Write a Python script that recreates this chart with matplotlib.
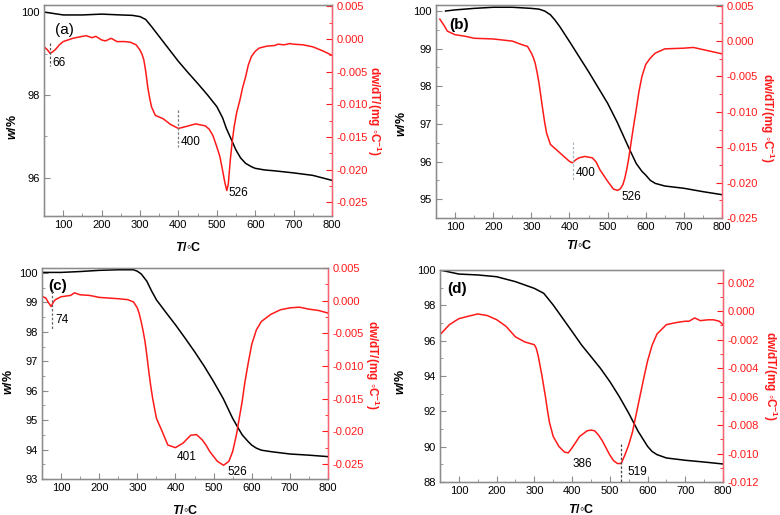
import matplotlib
matplotlib.use("Agg")
import matplotlib.pyplot as plt
from matplotlib.ticker import MultipleLocator, FuncFormatter

plt.rcParams['font.family'] = ['Liberation Sans', 'DejaVu Sans']
plt.rcParams['axes.unicode_minus'] = False
plt.rcParams['mathtext.fontset'] = 'custom'
plt.rcParams['mathtext.rm'] = 'Liberation Sans:bold'
plt.rcParams['mathtext.it'] = 'Liberation Sans:bold:italic'
plt.rcParams['mathtext.bf'] = 'Liberation Sans:bold'

RED = "#ff1a1a"
GREY = "#8c8c8c"

# ---- (a) ----
a_T_w = [50, 100, 150, 200, 250, 280, 300, 315, 330, 350, 375, 400, 425, 450, 475, 500, 515, 525,
         540, 550, 562, 575, 590, 600, 625, 650, 700, 750, 800]
a_w = [100.0, 99.93, 99.93, 99.95, 99.93, 99.92, 99.89, 99.82, 99.65, 99.41, 99.11, 98.81, 98.54,
       98.28, 98.01, 97.72, 97.45, 97.19, 96.88, 96.67, 96.48, 96.35, 96.27, 96.23, 96.19, 96.17,
       96.12, 96.06, 95.94]
a_T_d = [50, 58, 66, 72, 80, 90, 100, 125, 150, 160, 170, 175, 185, 200, 210, 225, 240, 260, 275,
         290, 300, 305, 310, 315, 320, 325, 330, 340, 360, 380, 400, 420, 445, 470, 480, 490, 500,
         508, 515, 521, 526, 530, 535, 540, 545, 552, 560, 567, 575, 582, 590, 600, 610, 630, 650,
         660, 675, 690, 700, 725, 750, 775, 800]
a_d = [-0.0012, -0.0016, -0.0022, -0.002, -0.0016, -0.0009, -0.0004, 0.0001, 0.0004, 0.0005, 0.0003,
       0.0002, 0.0004, -0.00015, -0.0003, 0.0001, -0.0004, -0.0004, -0.0005, -0.0009, -0.0017,
       -0.0023, -0.0032, -0.005, -0.0073, -0.009, -0.0104, -0.0117, -0.0122, -0.0131, -0.0137,
       -0.0134, -0.013, -0.0133, -0.0138, -0.0148, -0.0165, -0.018, -0.0201, -0.022, -0.0232,
       -0.0222, -0.0186, -0.0158, -0.0135, -0.0112, -0.0094, -0.0075, -0.0058, -0.004, -0.0027,
       -0.0019, -0.0014, -0.0011, -0.001, -0.0008, -0.0009, -0.0007, -0.0008, -0.0009, -0.0012,
       -0.0018, -0.0025]

# ---- (b) ----
b_T_w = [75, 100, 150, 200, 250, 300, 320, 335, 350, 362, 375, 400, 425, 450, 475, 500, 525, 550,
         560, 575, 590, 600, 612, 625, 650, 700, 750, 800]
b_w = [100.0, 100.03, 100.07, 100.1, 100.1, 100.07, 100.05, 100.0, 99.9, 99.76, 99.58, 99.19,
       98.79, 98.39, 97.97, 97.55, 97.05, 96.49, 96.27, 95.95, 95.74, 95.64, 95.5, 95.42, 95.35,
       95.29, 95.2, 95.12]
b_T_d = [60, 65, 70, 80, 100, 125, 150, 200, 250, 275, 290, 300, 305, 310, 315, 320, 325, 330, 335,
         340, 350, 375, 400, 408, 416, 425, 440, 460, 470, 480, 490, 500, 515, 526, 533, 540, 545,
         550, 555, 560, 567, 575, 582, 590, 600, 612, 625, 650, 700, 725, 750, 800]
b_d = [0.0031, 0.0027, 0.0023, 0.0014, 0.0009, 0.0007, 0.0004, 0.0003, 0.0, -0.0005, -0.00075,
       -0.0017, -0.0023, -0.0031, -0.0044, -0.0059, -0.0078, -0.0097, -0.0115, -0.013, -0.0146,
       -0.0158, -0.017, -0.0172, -0.0168, -0.0165, -0.0163, -0.0165, -0.0171, -0.0182, -0.019,
       -0.0198, -0.0209, -0.0211, -0.0209, -0.0203, -0.0194, -0.0182, -0.0167, -0.0149, -0.0124,
       -0.0097, -0.0072, -0.005, -0.0033, -0.0024, -0.0017, -0.0011, -0.001, -0.0009, -0.0012,
       -0.0018]

# ---- (c) ----
c_T_w = [50, 100, 150, 200, 250, 290, 300, 310, 325, 337, 350, 375, 400, 425, 450, 475, 500, 525,
         550, 565, 575, 590, 600, 612, 625, 650, 700, 750, 800]
c_w = [100.02, 100.02, 100.05, 100.09, 100.11, 100.11, 100.06, 99.97, 99.72, 99.4, 99.09, 98.66,
       98.24, 97.79, 97.33, 96.84, 96.31, 95.74, 95.06, 94.72, 94.5, 94.28, 94.15, 94.05, 93.98,
       93.93, 93.85, 93.81, 93.76]
c_T_d = [50, 60, 67, 74, 80, 85, 100, 125, 135, 150, 175, 200, 225, 250, 275, 290, 300, 305, 310,
         315, 320, 325, 330, 335, 340, 350, 365, 380, 400, 420, 440, 455, 470, 480, 490, 510, 526,
         540, 550, 560, 567, 575, 582, 590, 600, 612, 625, 650, 675, 700, 725, 750, 775, 800]
c_d = [0.00066, 0.0004, -0.0003, -0.0009, -0.0002, 0.00015, 0.0006, 0.0008, 0.0012, 0.0009, 0.0008,
       0.0005, 0.0004, 0.0003, 0.00015, -0.0002, -0.0011, -0.002, -0.0032, -0.0046, -0.0062,
       -0.0084, -0.0108, -0.013, -0.0149, -0.018, -0.02, -0.0221, -0.0225, -0.0218, -0.0206,
       -0.0205, -0.0213, -0.0221, -0.0231, -0.0246, -0.0252, -0.0246, -0.0231, -0.0205, -0.0181,
       -0.0154, -0.0125, -0.0098, -0.0067, -0.0045, -0.0032, -0.0021, -0.0014, -0.0011, -0.001,
       -0.0013, -0.0015, -0.0019]

# ---- (d) ----
d_T_w = [50, 100, 150, 200, 250, 300, 325, 350, 375, 400, 425, 450, 475, 500, 525, 550, 575, 600,
         612, 625, 650, 700, 750, 800]
d_w = [100.0, 99.77, 99.72, 99.62, 99.34, 98.96, 98.68, 98.02, 97.27, 96.52, 95.76, 95.1, 94.44,
       93.69, 92.84, 91.9, 90.87, 90.02, 89.73, 89.55, 89.36, 89.23, 89.13, 89.02]
d_T_d = [50, 75, 100, 125, 150, 175, 200, 225, 250, 275, 300, 305, 310, 315, 320, 325, 330, 335,
         340, 350, 365, 380, 390, 400, 410, 420, 440, 450, 460, 470, 480, 490, 500, 510, 520, 530,
         540, 550, 560, 575, 590, 600, 612, 625, 650, 675, 700, 710, 725, 740, 760, 775, 790, 800]
d_d = [-0.00165, -0.00094, -0.00052, -0.00035, -0.00019, -0.0003, -0.00059, -0.00106, -0.0018,
       -0.00216, -0.00235, -0.0026, -0.0031, -0.0038, -0.0045, -0.0053, -0.0061, -0.007, -0.0078,
       -0.0088, -0.0095, -0.0099, -0.00995, -0.0096, -0.0092, -0.0088, -0.0084, -0.00835, -0.0084,
       -0.0087, -0.0091, -0.0096, -0.0101, -0.0105, -0.0107, -0.0107, -0.0101, -0.0094, -0.0085,
       -0.0066, -0.0047, -0.0035, -0.0024, -0.0016, -0.00094, -0.0008, -0.0007, -0.0007, -0.00047,
       -0.00066, -0.0006, -0.0006, -0.0007, -0.00094]

panels = [
    dict(tag="(a)", Tw=a_T_w, w=a_w, Td=a_T_d, d=a_d, box=(44, 5, 332, 216),
         ylim=(95.08, 100.17), ymaj=2, ymin=1, dlim=(-0.0271, 0.0052), dmaj=0.005,
         tagpos=(78, 99.57), tagbold=False,
         vlines=[(66, -0.0006, -0.0041, "#555555"), (400, -0.0109, -0.0165, "#777777")],
         notes=[("66", 72, -0.0037), ("400", 406, -0.0158), ("526", 531, -0.0236)],
         ylab=(-0.108, 0.42), dlab=(1.145, 0.5), xlab=(0.5, -0.147)),
    dict(tag="(b)", Tw=b_T_w, w=b_w, Td=b_T_d, d=b_d, box=(436, 5, 722, 218),
         ylim=(94.5, 100.16), ymaj=1, ymin=0.5, dlim=(-0.025, 0.0051), dmaj=0.005,
         tagpos=(84, 99.63), tagbold=True,
         vlines=[(408, -0.0143, -0.0196, "#a9b4bc")],
         notes=[("400", 416, -0.0187), ("526", 537, -0.0221)],
         ylab=(-0.12, 0.44), dlab=(1.157, 0.47), xlab=(0.5, -0.127)),
    dict(tag="(c)", Tw=c_T_w, w=c_w, Td=c_T_d, d=c_d, box=(42, 268, 328, 479),
         ylim=(93, 100.17), ymaj=1, ymin=0.5, dlim=(-0.0273, 0.005), dmaj=0.005,
         tagpos=(67, 99.55), tagbold=True,
         vlines=[(75, 0.0015, -0.0044, "#666666")],
         notes=[("74", 84, -0.0029), ("401", 403, -0.0239), ("526", 536, -0.0263)],
         ylab=(-0.118, 0.46), dlab=(1.154, 0.54), xlab=(0.5, -0.147)),
    dict(tag="(d)", Tw=d_T_w, w=d_w, Td=d_T_d, d=d_d, box=(440, 270, 723, 482),
         ylim=(88, 100), ymaj=2, ymin=1, dlim=(-0.012, 0.0029), dmaj=0.002,
         tagpos=(69, 98.93), tagbold=True,
         vlines=[(530, -0.0093, -0.012, "#444444")],
         notes=[("386", 401, -0.0107), ("519", 547, -0.0113)],
         ylab=(-0.14, 0.47), dlab=(1.168, 0.5), xlab=(0.5, -0.132)),
]


def fmt3(v, pos):
    s = "%.3f" % v
    return "0.000" if s == "-0.000" else s


W, H = 780, 515
fig = plt.figure(figsize=(W / 100, H / 100), dpi=100)

for p in panels:
    l, t, r, b = p["box"]
    ax = fig.add_axes([l / W, 1 - b / H, (r - l) / W, (b - t) / H])
    ax2 = ax.twinx()

    ax.plot(p["Tw"], p["w"], color="black", lw=1.1)
    ax2.plot(p["Td"], p["d"], color=RED, lw=1.1)

    ax.set_xlim(50, 800)
    ax.set_ylim(*p["ylim"])
    ax2.set_ylim(*p["dlim"])

    ax.xaxis.set_major_locator(MultipleLocator(100))
    ax.xaxis.set_minor_locator(MultipleLocator(50))
    ax.yaxis.set_major_locator(MultipleLocator(p["ymaj"]))
    ax.yaxis.set_minor_locator(MultipleLocator(p["ymin"]))
    ax2.yaxis.set_major_locator(MultipleLocator(p["dmaj"]))
    ax2.yaxis.set_minor_locator(MultipleLocator(p["dmaj"] / 2))
    ax2.yaxis.set_major_formatter(FuncFormatter(fmt3))

    ax.tick_params(which="both", direction="in", color=GREY, labelsize=8, pad=3)
    ax.tick_params(which="major", length=4)
    ax.tick_params(which="minor", length=2)
    ax2.tick_params(which="both", direction="in", color=RED, labelcolor=RED, labelsize=8, pad=3)
    ax2.tick_params(which="major", length=4)
    ax2.tick_params(which="minor", length=2)

    for s in ("left", "bottom", "top"):
        ax2.spines[s].set_color(GREY)
    ax2.spines["right"].set_color("#ff6070")
    for sp in ax2.spines.values():
        sp.set_linewidth(1.0)

    for T, y0, y1, col in p["vlines"]:
        ax2.plot([T, T], [y0, y1], color=col, lw=0.9, ls=(0, (2, 1.5)))
    for s, T, y in p["notes"]:
        ax2.text(T, y, s, fontsize=8.5, ha="left", va="center")

    ax.text(p["tagpos"][0], p["tagpos"][1], p["tag"], fontsize=11,
            fontweight="bold" if p["tagbold"] else "normal", ha="left", va="center")

    ax.text(p["ylab"][0], p["ylab"][1], r"$\mathit{w}$/%", transform=ax.transAxes,
            rotation=90, ha="center", va="center", fontsize=9, fontweight="bold")
    ax.text(p["xlab"][0], p["xlab"][1], r"$\mathit{T}$/◦C", transform=ax.transAxes,
            ha="center", va="center", fontsize=9, fontweight="bold")
    ax.text(p["dlab"][0], p["dlab"][1], r"dw/dT/(mg ◦C$^{-1}$)", transform=ax.transAxes,
            rotation=270, ha="center", va="center", fontsize=8.5, fontweight="bold", color=RED)

fig.savefig("out.png", dpi=100)
